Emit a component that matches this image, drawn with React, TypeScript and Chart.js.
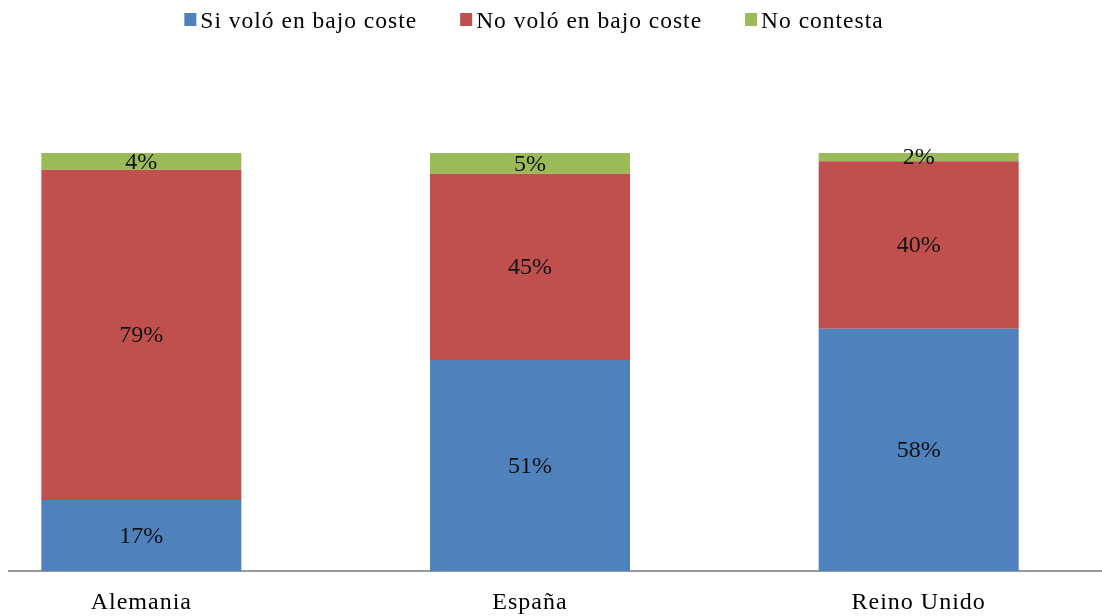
import { useEffect, useRef } from "react";
import { Chart, registerables } from "chart.js";

Chart.register(...registerables);

// Survey results per country (percent of respondents)
const categories = ["Alemania", "España", "Reino Unido"];
const seriesNames = ["Si voló en bajo coste", "No voló en bajo coste", "No contesta"];
const siVolo = [17, 51, 58];
const noVolo = [79, 45, 40];
const noContesta = [4, 5, 2];
const seriesColors = ["#4F81BD", "#C0504D", "#9BBB59"];

const FONT = '"Liberation Serif", "Times New Roman", serif';

const rawSeries = [siVolo, noVolo, noContesta];
// 100% stacked: each column is scaled to its own total
const totals = categories.map((_, i) => rawSeries.reduce((s, arr) => s + arr[i], 0));
const shareSeries = rawSeries.map((arr) => arr.map((v, i) => (v / totals[i]) * 100));

// Percentage labels centred inside every segment
const segmentLabels = {
  id: "segmentLabels",
  afterDatasetsDraw(chart: any) {
    const ctx = chart.ctx;
    ctx.save();
    ctx.letterSpacing = "0px";
    ctx.font = `24px ${FONT}`;
    ctx.fillStyle = "#111";
    ctx.textAlign = "center";
    ctx.textBaseline = "middle";
    chart.data.datasets.forEach((ds: any, di: number) => {
      const meta = chart.getDatasetMeta(di);
      meta.data.forEach((el: any, i: number) => {
        const y = (el.y + el.base) / 2;
        ctx.fillText(`${rawSeries[di][i]}%`, el.x, y + 1);
      });
    });
    ctx.restore();
  },
};

// Legend row: small square swatch followed by the series name
const seriesLegend = {
  id: "seriesLegend",
  beforeDraw(chart: any) {
    chart.ctx.letterSpacing = "1px";
  },
  afterDraw(chart: any) {
    const ctx = chart.ctx;
    ctx.save();
    ctx.font = `23.5px ${FONT}`;
    ctx.letterSpacing = "1px";
    ctx.textBaseline = "alphabetic";
    ctx.textAlign = "left";
    const box = 12;
    const boxGap = 4;
    const itemGap = 43;
    const widths = seriesNames.map((t) => ctx.measureText(t).width);
    const total =
      widths.reduce((a, b) => a + b, 0) + seriesNames.length * (box + boxGap) + itemGap * (seriesNames.length - 1);
    const center = (chart.chartArea.left + chart.chartArea.right) / 2 + 4;
    let x = center - total / 2;
    seriesNames.forEach((name, i) => {
      ctx.fillStyle = seriesColors[i];
      ctx.fillRect(x, 13, box, box + 1);
      ctx.fillStyle = "#000";
      ctx.fillText(name, x + box + boxGap, 27.5);
      x += box + boxGap + widths[i] + itemGap;
    });
    ctx.restore();
  },
};

export default function App() {
  const canvasRef = useRef<HTMLCanvasElement | null>(null);

  useEffect(() => {
    if (!canvasRef.current) return;
    const chart = new Chart(canvasRef.current, {
      type: "bar",
      data: {
        labels: categories,
        datasets: seriesNames.map((name, i) => ({
          label: name,
          data: shareSeries[i],
          backgroundColor: seriesColors[i],
          borderWidth: 0,
          barPercentage: 1,
          categoryPercentage: 0.5146,
        })),
      },
      options: {
        animation: false,
        responsive: false,
        devicePixelRatio: 1,
        layout: { padding: { top: 153, left: 0, right: 0, bottom: -18 } },
        plugins: {
          legend: { display: false },
          tooltip: { enabled: false },
        },
        scales: {
          x: {
            stacked: true,
            grid: { display: false, drawTicks: false },
            border: { display: true, color: "#999999", width: 2 },
            ticks: {
              color: "#000",
              padding: 17,
              font: { family: FONT, size: 24 },
            },
          },
          y: {
            stacked: true,
            display: false,
            min: 0,
            max: 100,
          },
        },
      },
      plugins: [segmentLabels, seriesLegend],
    });
    return () => chart.destroy();
  }, []);

  return (
    <div
      style={{
        position: "absolute",
        left: 8,
        top: 0,
        width: 1094,
        height: 616,
        overflow: "hidden",
        background: "#fff",
      }}
    >
      <canvas
        ref={canvasRef}
        width={1166}
        height={616}
        style={{ position: "absolute", left: -61, top: 0, width: 1166, height: 616 }}
      />
    </div>
  );
}
